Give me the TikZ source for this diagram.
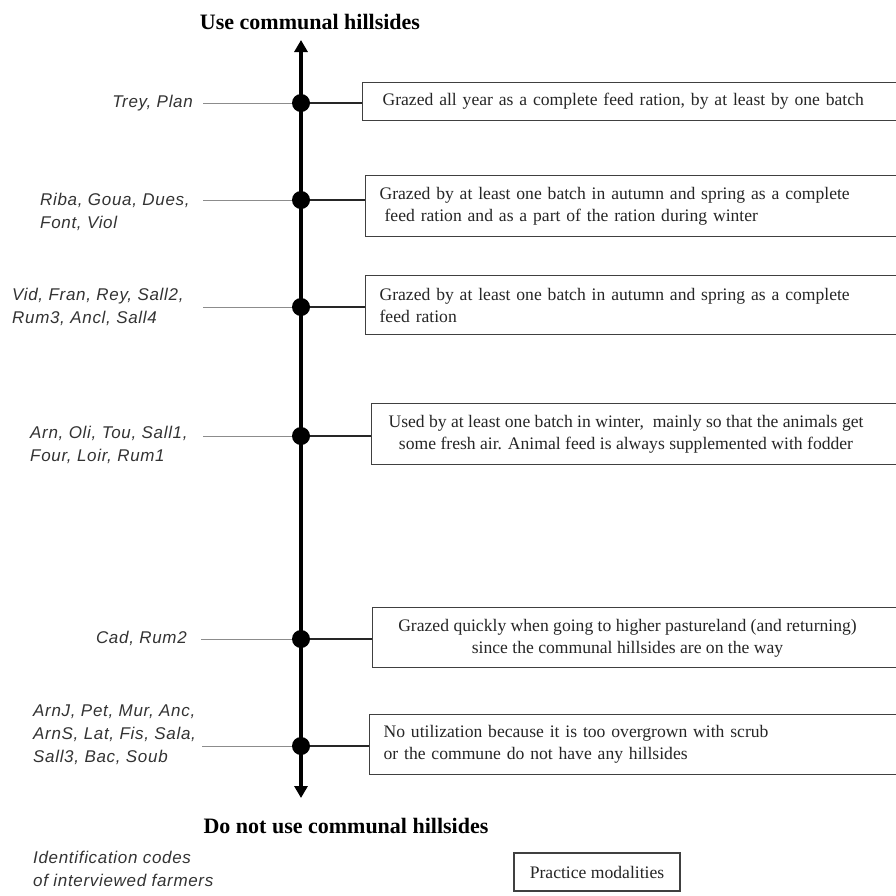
\documentclass[tikz,border=0pt]{standalone}
\usepackage{fontspec}
\setmainfont{Liberation Serif}
\newfontfamily\lblfont[LetterSpace=4]{Liberation Sans}
\usetikzlibrary{arrows.meta}
\tikzset{
  boxtext/.style={font=\fontsize{17.6}{22}\selectfont, text=black!85},
  pbox/.style={draw=black!75, line width=1.2pt, anchor=north west, inner xsep=14pt, inner ysep=0pt, text width=560pt, align=left, boxtext},
  ctext/.style={align=center, inner sep=0pt, boxtext},
  lbl/.style={font=\lblfont\itshape\fontsize{17}{23}\selectfont, text=black!80, inner sep=0pt, align=left},
  dot/.style={circle, fill=black, minimum size=18pt, inner sep=0pt},
  conn/.style={draw=black!85, line width=1.2pt},
  gline/.style={draw=black!45, line width=0.9pt},
  axis/.style={line width=4pt, {Triangle[width=13pt,length=12pt]}-{Triangle[width=13pt,length=12pt]}},
  ttl/.style={font=\bfseries\fontsize{22}{26}\selectfont, inner sep=0pt},
}
\begin{document}
\begin{tikzpicture}[x=1pt,y=-1pt]
\useasboundingbox (0,0) rectangle (896,895);
\fill[white] (0,0) rectangle (896,895);

% titles
\node[ttl] (top) at (310,22) {Use communal hillsides};
\node[ttl] (bottom) at (346,826) {Do not use communal hillsides};

% axis
\coordinate (atop) at (301,40);
\coordinate (abot) at (301,798);
\draw[axis] (abot) -- (atop);

% dots
\node[dot] (d1) at (301,103) {};
\node[dot] (d2) at (301,200) {};
\node[dot] (d3) at (301,307) {};
\node[dot] (d4) at (301,436) {};
\node[dot] (d5) at (301,639) {};
\node[dot] (d6) at (301,746) {};

% boxes
\node[pbox, inner xsep=20pt, minimum height=38pt] (b1) at (362,82)
  {Grazed all year as a complete feed ration, by at least by one batch};
\node[pbox, minimum height=61pt] (b2) at (365,175)
  {Grazed by at least one batch in autumn and spring as a complete\\\hspace*{5pt}feed ration and as a part of the ration during winter};
\node[pbox, minimum height=59pt] (b3) at (365,275)
  {Grazed by at least one batch in autumn and spring as a complete\\feed ration};
\node[pbox, minimum height=61pt] (b4) at (371,403) {};
\node[ctext] (t4) at (626,434)
  {Used by at least one batch in winter,\ \ mainly so that the animals get\\some fresh air. Animal feed is always supplemented with fodder};
\node[pbox, minimum height=60pt] (b5) at (372,607) {};
\node[ctext] (t5) at (627.5,638.5)
  {Grazed quickly when going to higher pastureland (and returning)\\since the communal hillsides are on the way};
\node[pbox, minimum height=60pt] (b6) at (369,714)
  {No utilization because it is too overgrown with scrub\\or the commune do not have any hillsides};

% right connectors
\foreach \i in {1,...,6}{
  \draw[conn] (d\i) -- (d\i -| b\i.west);
}

% left labels
\node[lbl, anchor=east] (l1) at (193,103) {Trey, Plan};
\node[lbl, anchor=west] (l2) at (40,212) {Riba, Goua, Dues,\\Font, Viol};
\node[lbl, anchor=west] (l3) at (12,306.5) {Vid, Fran, Rey, Sall2,\\Rum3, Ancl, Sall4};
\node[lbl, anchor=west] (l4) at (30,445) {Arn, Oli, Tou, Sall1,\\Four, Loir, Rum1};
\node[lbl, anchor=east] (l5) at (187,638) {Cad, Rum2};
\node[lbl, anchor=west] (l6) at (33,734.5) {ArnJ, Pet, Mur, Anc,\\ArnS, Lat, Fis, Sala,\\Sall3, Bac, Soub};

% gray lines
\coordinate (g1) at (203,103);
\coordinate (g2) at (203,200);
\coordinate (g3) at (203,307);
\coordinate (g4) at (203,436);
\coordinate (g5) at (201,639);
\coordinate (g6) at (202,746);
\foreach \i in {1,...,6}{
  \draw[gline] (g\i) -- (d\i);
}

% legend
\node[lbl, anchor=west] (legid) at (33,868.5) {Identification codes\\of interviewed farmers};
\node[draw=black!75, line width=1.2pt, minimum width=166pt, minimum height=38pt, inner sep=0pt, boxtext] (legbox) at (597,872) {Practice modalities};
\end{tikzpicture}
\end{document}
